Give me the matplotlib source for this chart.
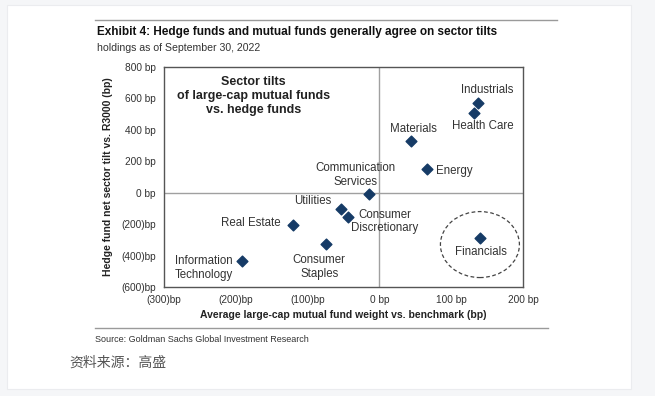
import matplotlib
matplotlib.use("Agg")
import matplotlib.pyplot as plt
from matplotlib.patches import Ellipse, Rectangle
from matplotlib.lines import Line2D

plt.rcParams['font.family'] = ['Liberation Sans', 'DejaVu Sans']

# Sector tilts (bp): x = mutual fund weight vs benchmark, y = hedge fund net tilt
sectors = ['Industrials', 'Health Care', 'Materials', 'Energy',
           'Communication\nServices', 'Utilities', 'Consumer\nDiscretionary',
           'Real Estate', 'Consumer\nStaples', 'Information\nTechnology',
           'Financials']
mf_tilt = [138, 132, 44, 66, -14, -54, -44, -121, -74, -192, 140]
hf_tilt = [570, 506, 330, 150, -10, -104, -152, -208, -326, -436, -286]

x_ticks = [-300, -200, -100, 0, 100, 200]
y_ticks = [-600, -400, -200, 0, 200, 400, 600, 800]

# label placement: (dx px, dy px, ha)
label_pos = {
    'Industrials': (9, 13, 'center'),
    'Health Care': (9, -13, 'center'),
    'Materials': (2, 12, 'center'),
    'Energy': (9, -2, 'left'),
    'Communication\nServices': (-14, 19, 'center'),
    'Utilities': (-28, 8, 'center'),
    'Consumer\nDiscretionary': (37, -5, 'center'),
    'Real Estate': (-12, 2, 'right'),
    'Consumer\nStaples': (-7, -23, 'center'),
    'Information\nTechnology': (-67, -7, 'left'),
    'Financials': (1, -14, 'center'),
}


def bp(v):
    return f"({abs(v)})bp" if v < 0 else f"{v} bp"


fig = plt.figure(figsize=(6.55, 3.96), dpi=100)
fig.patch.set_facecolor('#f5f6f8')
fig.add_artist(Rectangle((7 / 655, 1 - 389 / 396), 624 / 655, 384 / 396,
                         transform=fig.transFigure, facecolor='white',
                         edgecolor='#ebecef', lw=0.8, zorder=0))

ax = fig.add_axes([164 / 655, 1 - 287 / 396, 359 / 655, 220 / 396])
ax.set_xlim(-300, 200)
ax.set_ylim(-600, 800)
ax.axhline(0, color='#a0a0a0', lw=1)
ax.axvline(0, color='#a0a0a0', lw=1)
ax.scatter(mf_tilt, hf_tilt, marker='D', s=30, color='#163b66', zorder=3)

for name, x, y in zip(sectors, mf_tilt, hf_tilt):
    dx, dy, ha = label_pos[name]
    ax.annotate(name, (x, y), xytext=(dx, dy), textcoords='offset pixels',
                ha=ha, va='center', fontsize=8.3, color='#333333',
                linespacing=1.2)

# dashed circle around Financials
fx, fy = mf_tilt[-1], hf_tilt[-1]
ax.add_patch(Ellipse((fx, fy - 44), 110, 420, fill=False, ls=(0, (3, 2)),
                     lw=0.9, color='#444444'))

ax.text(-175, 615, 'Sector tilts\nof large-cap mutual funds\nvs. hedge funds',
        ha='center', va='center', fontsize=9, fontweight='bold',
        color='#222222', linespacing=1.25)

ax.set_xticks(x_ticks)
ax.set_xticklabels([bp(v) for v in x_ticks])
ax.set_yticks(y_ticks)
ax.set_yticklabels([bp(v) for v in y_ticks])
ax.tick_params(length=0, labelsize=7.3, colors='#333333', pad=6)
for s in ax.spines.values():
    s.set_color('#555555')
    s.set_linewidth(1)
ax.set_xlabel('Average large-cap mutual fund weight vs. benchmark (bp)',
              fontsize=7.5, fontweight='bold', color='#222222', labelpad=3)
ax.set_ylabel('Hedge fund net sector tilt vs. R3000 (bp)',
              fontsize=7.5, fontweight='bold', color='#222222', labelpad=6)

# header / footer
fig.add_artist(Line2D([95 / 655, 557 / 655], [1 - 20 / 396] * 2,
                      transform=fig.transFigure, color='#9a9a9a', lw=1))
fig.add_artist(Line2D([95 / 655, 548 / 655], [1 - 328 / 396] * 2,
                      transform=fig.transFigure, color='#9a9a9a', lw=1))
fig.text(97 / 655, 1 - 32 / 396,
         'Exhibit 4: Hedge funds and mutual funds generally agree on sector tilts',
         fontsize=8.5, fontweight='bold', color='#111111', va='center')
fig.text(97 / 655, 1 - 48 / 396, 'holdings as of September 30, 2022',
         fontsize=7.6, color='#333333', va='center')
fig.text(95 / 655, 1 - 339 / 396,
         'Source: Goldman Sachs Global Investment Research',
         fontsize=6.5, color='#333333', va='center')
fig.text(69 / 655, 1 - 363 / 396, '资料来源：高盛', fontsize=10,
         color='#555555', va='center',
         family=['Noto Sans CJK SC', 'DejaVu Sans'])

fig.savefig('out.png', dpi=100, facecolor=fig.get_facecolor())
